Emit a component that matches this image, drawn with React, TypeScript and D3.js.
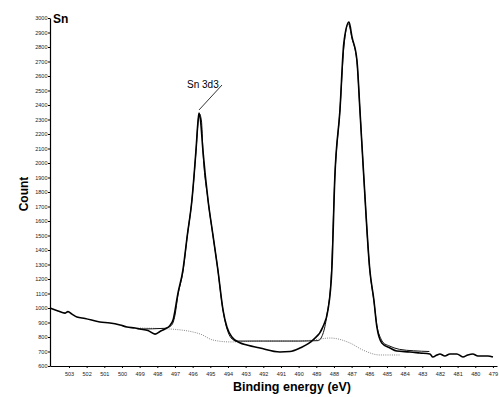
import React, { useEffect, useRef } from "react";
import * as d3 from "d3";

// Measured spectrum (binding energy eV, counts)
const measuredE = [504.08, 503.62, 503.23, 503.06, 502.83, 502.55, 502.09, 501.25, 500.68, 500.11, 499.72, 499.26, 498.98, 498.53, 498.13, 497.85, 497.57, 497.28, 497.11, 496.83, 496.55, 496.3, 496.04, 495.81, 495.7, 495.64, 495.56, 495.42, 495.13, 494.85, 494.57, 494.28, 494.06, 493.78, 493.33, 492.93, 492.19, 491.06, 490.49, 489.93, 489.19, 488.63, 488.34, 488.12, 487.95, 487.66, 487.44, 487.15, 486.98, 486.7, 486.53, 486.31, 485.97, 485.74, 485.57, 485.29, 484.83, 484.44, 483.7, 483.14, 482.57, 482.4, 482.17, 482.0, 481.72, 481.44, 481.04, 480.7, 480.42, 480.14, 479.85, 479.57, 479.29, 479.0];
const measuredC = [1000, 980, 965, 975, 958, 938, 928, 903, 897, 883, 869, 862, 855, 845, 820, 838, 855, 880, 917, 1103, 1262, 1503, 1745, 2090, 2280, 2345, 2300, 2090, 1745, 1503, 1262, 986, 869, 800, 760, 745, 724, 697, 700, 724, 779, 869, 986, 1262, 1903, 2366, 2828, 2972, 2870, 2710, 2366, 1903, 1262, 1055, 869, 759, 724, 703, 697, 690, 683, 662, 676, 683, 669, 683, 683, 662, 676, 683, 669, 669, 669, 662];

// Fitted envelope
const fitE = [498.98, 497.57, 497.2, 497.0, 496.83, 496.55, 496.3, 496.04, 495.81, 495.68, 495.62, 495.5, 495.42, 495.13, 494.85, 494.57, 494.35, 494.15, 493.95, 493.7, 493.55, 492.0, 490.0, 488.9, 488.63, 488.4, 488.15, 487.95, 487.66, 487.44, 487.18, 486.98, 486.7, 486.53, 486.31, 485.97, 485.74, 485.57, 485.35, 485.2, 484.9, 484.3, 483.5, 482.6];
const fitC = [855, 860, 880, 950, 1090, 1250, 1500, 1745, 2080, 2300, 2340, 2290, 2090, 1745, 1500, 1262, 1040, 900, 820, 780, 772, 772, 772, 775, 820, 950, 1230, 1900, 2366, 2800, 2960, 2860, 2700, 2366, 1903, 1262, 1050, 880, 790, 760, 740, 715, 705, 700];

// Background (gray dotted)
const bgE = [498.98, 497.28, 495.58, 494.85, 493.88, 492.19, 489.93, 488.8, 488.23, 487.1, 486.36, 485.4, 484.27];
const bgC = [862, 855, 821, 779, 766, 772, 772, 786, 793, 759, 710, 676, 676];

const xTicks = d3.range(479, 504);
const yTicks = d3.range(600, 3001, 100);

const FONT = "Arial, 'Liberation Sans', sans-serif";

export default function App() {
  const ref = useRef<SVGSVGElement>(null);

  useEffect(() => {
    const svg = d3.select(ref.current);
    svg.selectAll("*").remove();

    const x = d3.scaleLinear().domain([504.075, 478.77]).range([50, 497]);
    const y = d3.scaleLinear().domain([600, 3000]).range([366, 18]);

    // axes
    const xAxis = svg.append("g").attr("transform", "translate(0,366)")
      .call(d3.axisBottom(x).tickValues(xTicks).tickSize(2).tickSizeOuter(0).tickFormat(d3.format("d")));
    xAxis.select(".domain").attr("stroke", "#000").attr("stroke-width", 1.2);
    xAxis.selectAll(".tick line").attr("stroke", "#000");
    xAxis.selectAll(".tick text").attr("font-size", 5.5).attr("font-family", FONT).attr("dy", "0.9em").attr("fill", "#222");

    const yAxis = svg.append("g").attr("transform", "translate(50,0)")
      .call(d3.axisLeft(y).tickValues(yTicks).tickSize(2).tickSizeOuter(0).tickFormat(d3.format("d")));
    yAxis.select(".domain").attr("stroke", "#000").attr("stroke-width", 1.2);
    yAxis.selectAll(".tick line").attr("stroke", "#000");
    yAxis.selectAll(".tick text").attr("font-size", 5.5).attr("font-family", FONT).attr("x", -2.5).attr("fill", "#222");

    const smooth = d3.line<[number, number]>().x(d => x(d[0])).y(d => y(d[1])).curve(d3.curveMonotoneX);

    const bg = bgE.map((e, i) => [e, bgC[i]] as [number, number]);
    svg.append("path").attr("d", smooth(bg)!)
      .attr("fill", "none").attr("stroke", "#888").attr("stroke-width", 1).attr("stroke-dasharray", "1,1.2");

    const fit = fitE.map((e, i) => [e, fitC[i]] as [number, number]);
    svg.append("path").attr("d", smooth(fit)!)
      .attr("fill", "none").attr("stroke", "#111").attr("stroke-width", 1);

    const meas = measuredE.map((e, i) => [e, measuredC[i]] as [number, number]);
    svg.append("path").attr("d", smooth(meas)!)
      .attr("fill", "none").attr("stroke", "#000").attr("stroke-width", 1.6).attr("stroke-linejoin", "round");

    // annotation
    svg.append("text").attr("x", 187).attr("y", 88).attr("font-size", 10).attr("font-family", FONT).text("Sn 3d3");
    svg.append("line").attr("x1", 222).attr("y1", 85).attr("x2", x(495.64)).attr("y2", y(2345) - 3)
      .attr("stroke", "#000").attr("stroke-width", 0.8);

    // labels
    svg.append("text").attr("x", 53).attr("y", 23).attr("font-size", 12).attr("font-weight", "bold").attr("font-family", FONT).text("Sn");
    svg.append("text").attr("transform", "translate(28,194) rotate(-90)").attr("text-anchor", "middle")
      .attr("font-size", 12).attr("font-weight", "bold").attr("font-family", FONT).text("Count");
    svg.append("text").attr("x", 292).attr("y", 391).attr("text-anchor", "middle")
      .attr("font-size", 12.5).attr("font-weight", "bold").attr("font-family", FONT).text("Binding energy (eV)");
  }, []);

  return (
    <svg ref={ref} width={499} height={397} style={{ position: "absolute", left: 0, top: 0, background: "#fff" }} />
  );
}
